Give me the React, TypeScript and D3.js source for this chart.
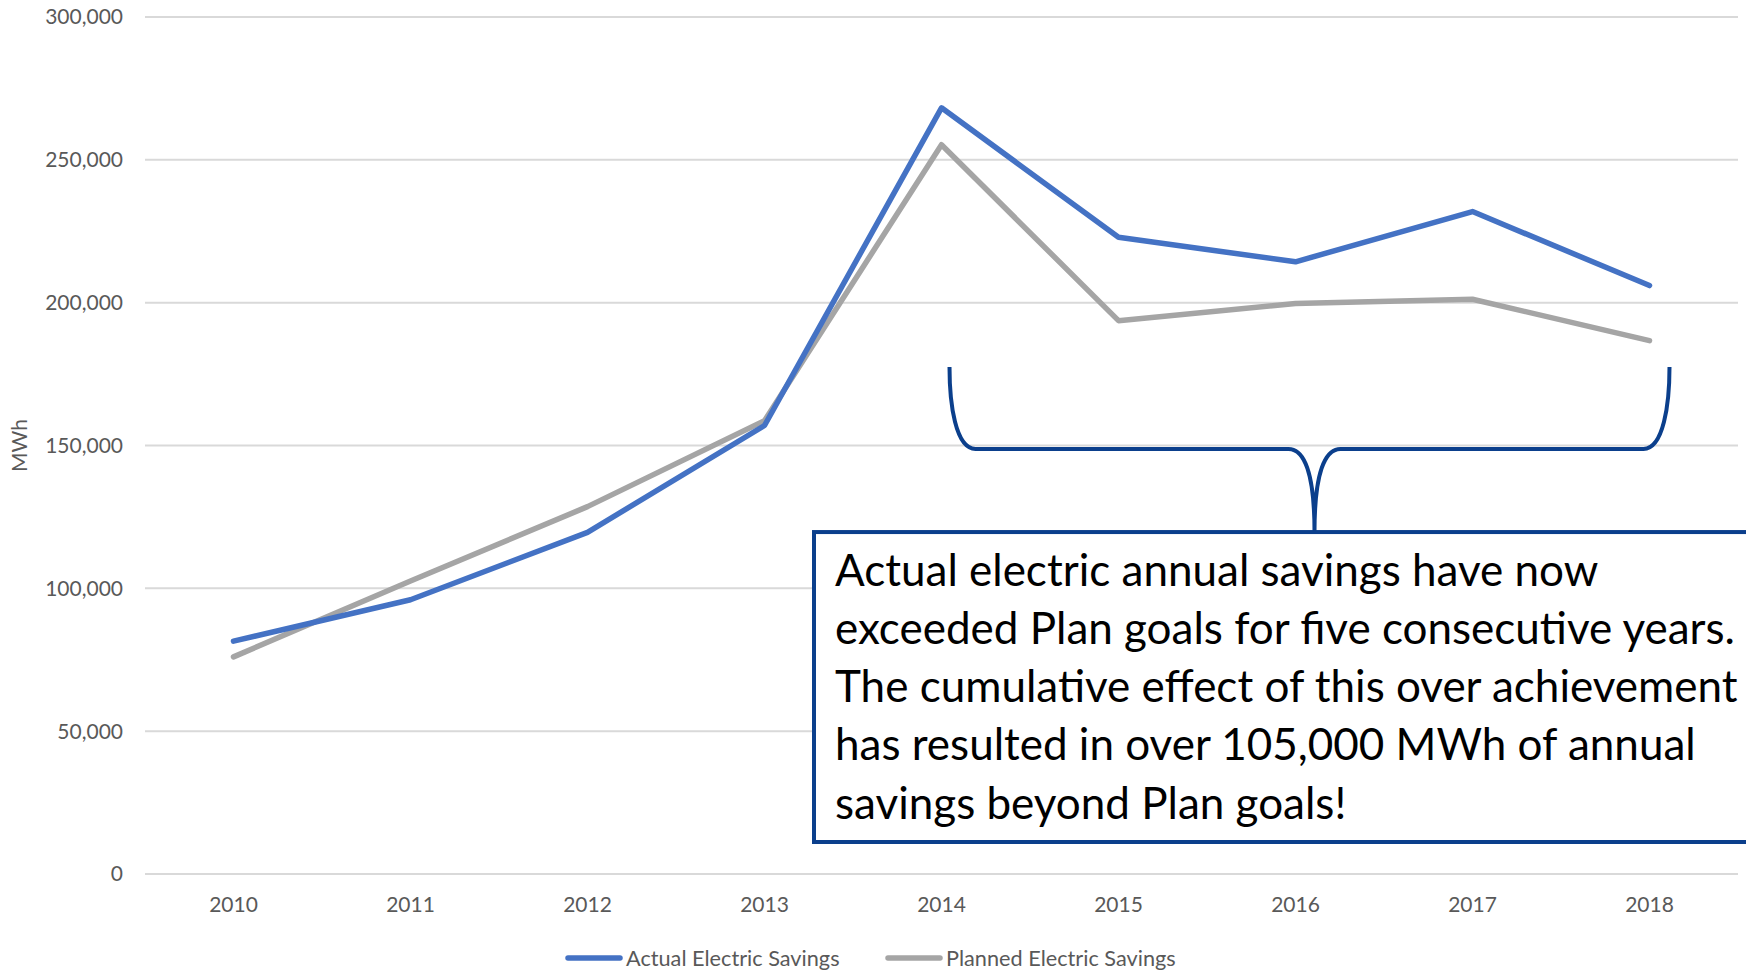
import { useEffect } from "react";
import * as d3 from "d3";

const years = ["2010", "2011", "2012", "2013", "2014", "2015", "2016", "2017", "2018"];
const actualSavings = [81500, 96000, 119600, 157000, 268200, 222900, 214300, 231900, 206000];
const plannedSavings = [76000, 102600, 128600, 158700, 255300, 193700, 199700, 201200, 186700];
const yTicks = [0, 50000, 100000, 150000, 200000, 250000, 300000];
const seriesNames = ["Actual Electric Savings", "Planned Electric Savings"];
const noteLines = [
  "Actual electric annual savings have now",
  "exceeded Plan goals for five consecutive years.",
  "The cumulative effect of this over achievement",
  "has resulted in over 105,000 MWh of annual",
  "savings beyond Plan goals!",
];

const WIDTH = 1746;
const HEIGHT = 970;
const PLOT = { left: 145, right: 1738, top: 17, bottom: 874 };
const FONT = "Lato, 'Open Sans', sans-serif";
const BLUE = "#4472C4";
const GRAY = "#A5A5A5";
const NAVY = "#0B3F8C";
const AXIS_TEXT = "#595959";

export default function App() {
  useEffect(() => {
    document.body.style.margin = "0";
  }, []);

  const x = d3.scalePoint<string>().domain(years).range([PLOT.left, PLOT.right]).padding(0.5);
  const y = d3.scaleLinear().domain([0, 300000]).range([PLOT.bottom, PLOT.top]);
  const fmt = d3.format(",");

  const line = d3
    .line<number>()
    .x((_, i) => x(years[i]) as number)
    .y((d) => y(d));

  // brace over 2014-2018 pointing down to the note box
  const bl = (x("2014") as number) + 8;
  const br = (x("2018") as number) + 20;
  const bm = (x("2016") as number) + 19;
  const bTop = y(177500);
  const bMid = y(148800);
  const boxTop = y(119700);
  const boxBottom = 842;
  const boxLeft = 814;
  const r = 26;
  const brace = [
    `M${bl},${bTop}`,
    `C${bl},${bMid - 45} ${bl + 6},${bMid} ${bl + r},${bMid}`,
    `L${bm - r},${bMid}`,
    `C${bm - 10},${bMid} ${bm},${bMid + 25} ${bm},${boxTop}`,
    `M${bm},${boxTop}`,
    `C${bm},${bMid + 25} ${bm + 10},${bMid} ${bm + r},${bMid}`,
    `L${br - r},${bMid}`,
    `C${br - 6},${bMid} ${br},${bMid - 45} ${br},${bTop}`,
  ].join(" ");

  const legend = [
    { name: seriesNames[0], color: BLUE, x0: 568 },
    { name: seriesNames[1], color: GRAY, x0: 888 },
  ];

  return (
    <svg
      width={WIDTH}
      height={HEIGHT}
      style={{ position: "absolute", left: 0, top: 0, background: "#fff" }}
      fontFamily={FONT}
    >
      {/* gridlines */}
      {yTicks.map((t) => (
        <line key={t} x1={PLOT.left} x2={PLOT.right} y1={y(t)} y2={y(t)} stroke="#D9D9D9" strokeWidth={2} />
      ))}
      {/* y tick labels */}
      {yTicks.map((t) => (
        <text key={t} x={123} y={y(t)} dy="0.35em" textAnchor="end" fontSize={21} fill={AXIS_TEXT}>
          {fmt(t)}
        </text>
      ))}
      <text
        transform={`translate(20,${(PLOT.top + PLOT.bottom) / 2}) rotate(-90)`}
        textAnchor="middle"
        dy="0.35em"
        fontSize={21}
        fill={AXIS_TEXT}
      >
        MWh
      </text>
      {/* x tick labels */}
      {years.map((yr) => (
        <text key={yr} x={x(yr)} y={905} dy="0.35em" textAnchor="middle" fontSize={21} fill={AXIS_TEXT}>
          {yr}
        </text>
      ))}
      {/* series */}
      <path d={line(plannedSavings) ?? ""} fill="none" stroke={GRAY} strokeWidth={5.5} strokeLinecap="round" strokeLinejoin="round" />
      <path d={line(actualSavings) ?? ""} fill="none" stroke={BLUE} strokeWidth={5.5} strokeLinecap="round" strokeLinejoin="round" />
      {/* annotation */}
      <path d={brace} fill="none" stroke={NAVY} strokeWidth={4} />
      <rect x={boxLeft} y={boxTop} width={WIDTH} height={boxBottom - boxTop} fill="#fff" stroke={NAVY} strokeWidth={4} />
      {noteLines.map((ln, i) => (
        <text key={i} x={835} y={585.5 + i * 58.3} fontSize={44} fill="#000">
          {ln}
        </text>
      ))}
      {/* legend */}
      {legend.map((l) => (
        <g key={l.name}>
          <line x1={l.x0} x2={l.x0 + 52} y1={958} y2={958} stroke={l.color} strokeWidth={5.5} strokeLinecap="round" />
          <text x={l.x0 + 58} y={958} dy="0.35em" fontSize={21.7} fill={AXIS_TEXT}>
            {l.name}
          </text>
        </g>
      ))}
    </svg>
  );
}
